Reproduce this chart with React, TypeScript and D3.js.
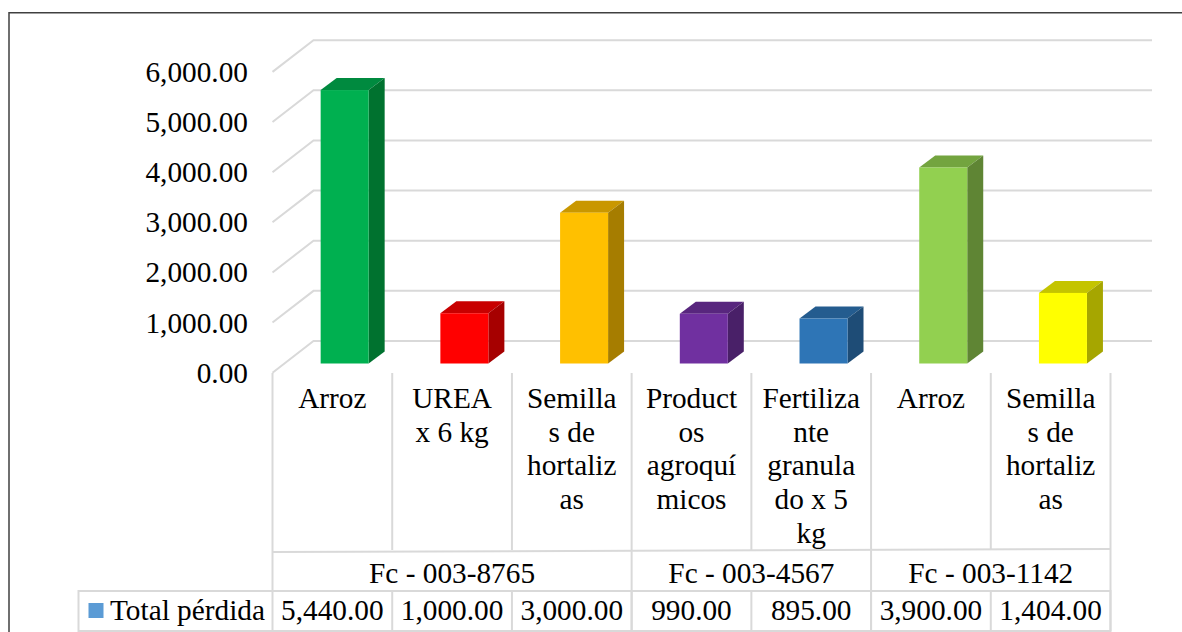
import React from "react";
import * as d3 from "d3";

const categories = ["Arroz", "UREA x 6 kg", "Semillas de hortalizas", "Productos agroquímicos", "Fertilizante granulado x 5 kg", "Arroz", "Semillas de hortalizas"];
const categoryLines = [
  ["Arroz"],
  ["UREA", "x 6 kg"],
  ["Semilla", "s de", "hortaliz", "as"],
  ["Product", "os", "agroquí", "micos"],
  ["Fertiliza", "nte", "granula", "do x 5", "kg"],
  ["Arroz"],
  ["Semilla", "s de", "hortaliz", "as"],
];
const values = [5440, 1000, 3000, 990, 895, 3900, 1404];
const valueLabels = ["5,440.00", "1,000.00", "3,000.00", "990.00", "895.00", "3,900.00", "1,404.00"];
const tickValues = [0, 1000, 2000, 3000, 4000, 5000, 6000];
const groups = [
  { name: "Fc - 003-8765", from: 0, to: 2 },
  { name: "Fc - 003-4567", from: 3, to: 4 },
  { name: "Fc - 003-1142", from: 5, to: 6 },
];
const frontColors = ["#00B050", "#FF0000", "#FFC000", "#7030A0", "#2E75B6", "#92D050", "#FFFF00"];
const topColors = ["#008A3F", "#C80000", "#C99700", "#58267E", "#245C8F", "#73A43F", "#C4C400"];
const sideColors = ["#00722F", "#A60000", "#A67D00", "#492068", "#1E4C76", "#5F8534", "#A6A600"];
const seriesName = "Total pérdida";

const GRID = "#D9D9D9";
const FONT = "'Liberation Serif', 'Times New Roman', serif";
const FS = 29.3;

export default function App() {
  const x = d3.scaleBand<number>().domain(d3.range(values.length)).range([272.5, 1110.5]);
  const yFront = d3.scaleLinear().domain([0, 6000]).range([372.7, 71.9]);
  const yBar = d3.scaleLinear().domain([0, 6000]).range([363.5, 61.9]);
  const depthX = 41;
  const depthY = -31.7;
  const barW = 48;
  const barDX = 16;
  const barDY = -12;
  const fmt = d3.format(",.2f");
  const bw = x.bandwidth();

  return (
    <svg width={1182} height={632} style={{ position: "absolute", left: 0, top: 0, background: "#fff" }} fontFamily={FONT} fill="#000">
      <path d="M9,632V12.7H1182" fill="none" stroke="#404040" strokeWidth={1.5} />

      {tickValues.map((t) => (
        <g key={t}>
          <polyline
            points={`272.5,${yFront(t)} ${272.5 + depthX},${yFront(t) + depthY} 1152,${yFront(t) + depthY}`}
            fill="none" stroke={GRID} strokeWidth={2}
          />
          <text x={248} y={yFront(t) + 10} textAnchor="end" fontSize={FS}>{fmt(t)}</text>
        </g>
      ))}

      {values.map((v, i) => {
        const cx = x(i)! + bw / 2 + 12.3;
        const l = cx - barW / 2;
        const r = cx + barW / 2;
        const top = yBar(v);
        const bottom = yBar(0);
        return (
          <g key={categories[i] + i}>
            <polygon points={`${l},${top} ${l + barDX},${top + barDY} ${r + barDX},${top + barDY} ${r},${top}`} fill={topColors[i]} />
            <polygon points={`${r},${top} ${r + barDX},${top + barDY} ${r + barDX},${bottom + barDY} ${r},${bottom}`} fill={sideColors[i]} />
            <rect x={l} y={top} width={barW} height={bottom - top} fill={frontColors[i]} />
          </g>
        );
      })}

      <g stroke={GRID} strokeWidth={2} fill="none">
        {d3.range(values.length + 1).map((i) => {
          const lx = i === values.length ? x.range()[1] : x(i)!;
          return <line key={i} x1={lx} x2={lx} y1={373} y2={550} />;
        })}
        <line x1={272.5} x2={1110.5} y1={552} y2={549} />
        {[0, 3, 5, 7].map((i) => {
          const lx = i === 7 ? x.range()[1] : x(i)!;
          return <line key={i} x1={lx} x2={lx} y1={550} y2={631} />;
        })}
        {d3.range(1, values.length).map((i) => (
          <line key={i} x1={x(i)!} x2={x(i)!} y1={591} y2={631} />
        ))}
        <rect x={78.5} y={591} width={1032} height={40} />
      </g>

      {categoryLines.map((lines, i) =>
        lines.map((ln, j) => (
          <text key={j} x={x(i)! + bw / 2} y={408 + j * 33.7} textAnchor="middle" fontSize={FS}>{ln}</text>
        ))
      )}
      {groups.map((g) => (
        <text key={g.name} x={(x(g.from)! + x(g.to)! + bw) / 2} y={583} textAnchor="middle" fontSize={FS}>{g.name}</text>
      ))}
      {valueLabels.map((s, i) => (
        <text key={i} x={x(i)! + bw / 2} y={620} textAnchor="middle" fontSize={FS}>{s}</text>
      ))}
      <rect x={88.5} y={603} width={15} height={15} fill="#5B9BD5" />
      <text x={110} y={620} fontSize={FS}>{seriesName}</text>
    </svg>
  );
}
